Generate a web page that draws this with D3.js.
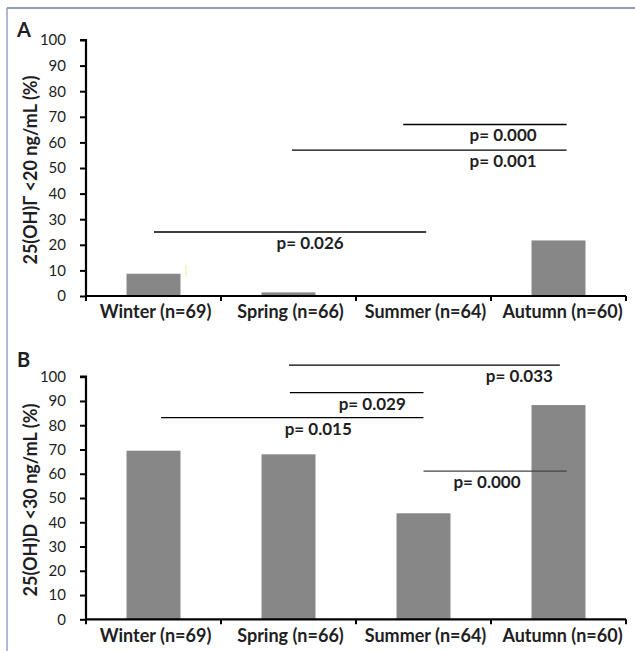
<!DOCTYPE html>
<html>
<head>
<meta charset="utf-8">
<script src="https://cdn.jsdelivr.net/npm/d3@7"></script>
<style>
  html, body { margin: 0; padding: 0; background: #fff; }
  svg { display: block; }
  text { font-family: Lato, "Open Sans", sans-serif; font-weight: bold; fill: #1e1e24; }
</style>
</head>
<body>
<script>
// ---------- data ----------
const categories = ["Winter (n=69)", "Spring (n=66)", "Summer (n=64)", "Autumn (n=60)"];
const valuesA = [8.7, 1.4, 0, 21.7];   // % with 25(OH)D < 20 ng/mL
const valuesB = [69.5, 68.0, 43.7, 88.3]; // % with 25(OH)D < 30 ng/mL
const yTicks = [0, 10, 20, 30, 40, 50, 60, 70, 80, 90, 100];
const titleA = "25(OH)Γ <20 ng/mL (%)";
const titleB = "25(OH)D <30 ng/mL (%)";
// significance brackets: start / end / label position in category units, level in % units
const bracketStartA = [0.004, 1.026, 1.85];
const bracketEndA   = [2.02, 3.06, 3.06];
const bracketLevelA = [25, 57, 67];
const bracketLabelA = ["p= 0.026", "p= 0.001", "p= 0.000"];
const bracketLabelPosA = [1.16, 2.59, 2.59];
const bracketStartB = [1.004, 1.01, 0.056, 2.0];
const bracketEndB   = [3.01, 2.0, 2.0, 3.06];
const bracketLevelB = [104.8, 93.4, 83.1, 61.1];
const bracketLabelB = ["p= 0.033", "p= 0.029", "p= 0.015", "p= 0.000"];
const bracketLabelPosB = [2.71, 1.62, 1.22, 2.47];

// ---------- drawing ----------
const W = 635, H = 651;
const svg = d3.select("body").append("svg").attr("width", W).attr("height", H);

// frame
svg.append("line").attr("x1", 7).attr("x2", W).attr("y1", 8).attr("y2", 8)
  .attr("stroke", "#8f9bc0").attr("stroke-width", 2.2);
svg.append("line").attr("x1", 7).attr("x2", 7).attr("y1", 8).attr("y2", H)
  .attr("stroke", "#8f9bc0").attr("stroke-width", 1.4);

function panel(opts) {
  const g = svg.append("g");
  const x = d3.scaleBand().domain(categories).range([86, 626]).paddingInner(0.6).paddingOuter(0.3);
  const slot = d3.scaleBand().domain(categories).range([86, 626]).padding(0);
  const step = slot.step();
  const cx = u => slot(categories[0]) + step / 2 + u * step;
  const y = d3.scaleLinear().domain([0, 100]).range([opts.y0, opts.y100]);

  // bars
  g.selectAll("rect.bar").data(opts.values).join("rect")
    .attr("class", "bar")
    .attr("x", (d, i) => x(categories[i]))
    .attr("width", x.bandwidth())
    .attr("y", d => y(d))
    .attr("height", d => y(0) - y(d))
    .attr("fill", "#878787");

  // y axis
  const yAxis = d3.axisLeft(y).tickValues(yTicks).tickSize(6).tickPadding(14);
  const ya = g.append("g").attr("transform", "translate(86,0)").call(yAxis);
  ya.select(".domain").attr("stroke", "#000").attr("stroke-width", 2.2)
    .attr("d", `M-6,${y(100)}H0V${y(0)}`);
  ya.selectAll(".tick line").attr("stroke", "#000").attr("stroke-width", 2);
  ya.selectAll(".tick text").style("font-size", "15px").style("font-weight", "normal")
    .attr("fill", "#1e1e30").attr("font-family", "Lato, sans-serif");

  // x axis (ticks at category boundaries)
  const bounds = categories.map(c => slot(c)).concat([626]);
  g.append("line").attr("x1", 86).attr("x2", 626).attr("y1", y(0)).attr("y2", y(0))
    .attr("stroke", "#000").attr("stroke-width", 2.2);
  g.selectAll("line.xt").data(bounds).join("line").attr("class", "xt")
    .attr("x1", d => d).attr("x2", d => d)
    .attr("y1", y(0)).attr("y2", y(0) + 5)
    .attr("stroke", "#000").attr("stroke-width", 2);
  g.selectAll("text.cat").data(categories).join("text").attr("class", "cat")
    .attr("x", (c, i) => slot(c) + step / 2 + (i === 3 ? 4 : 2))
    .attr("y", y(0) + opts.catDy)
    .attr("text-anchor", "middle")
    .style("font-size", "18px")
    .text(c => c);

  // y title
  g.append("text")
    .attr("transform", `translate(37,${(y(0) + y(100)) / 2 + 2}) rotate(-90)`)
    .attr("text-anchor", "middle")
    .style("font-size", "18px")
    .text(opts.title);

  // panel letter
  g.append("text").attr("x", 17).attr("y", opts.letterY)
    .style("font-size", "20px").text(opts.letter);

  // brackets
  opts.bStart.forEach((s, i) => {
    const yy = y(opts.bLevel[i]);
    g.append("line").attr("x1", cx(s)).attr("x2", cx(opts.bEnd[i]))
      .attr("y1", yy).attr("y2", yy)
      .attr("stroke", opts.bColor ? opts.bColor[i] : "#000").attr("stroke-width", 1.3);
    g.append("text").attr("x", cx(opts.bLabelPos[i])).attr("y", yy + 17)
      .attr("text-anchor", "middle").style("font-size", "17px")
      .text(opts.bLabel[i]);
  });
  return { x, y, slot };
}

panel({
  values: valuesA, y0: 296, y100: 40, title: titleA, letter: "A", letterY: 37, catDy: 22,
  bStart: bracketStartA, bEnd: bracketEndA, bLevel: bracketLevelA,
  bLabel: bracketLabelA, bLabelPos: bracketLabelPosA
});
// stray faint mark present in the original figure
svg.append("line").attr("x1", 186).attr("x2", 186).attr("y1", 265).attr("y2", 277)
  .attr("stroke", "#f3ef9c").attr("stroke-width", 1);

panel({
  values: valuesB, y0: 619.3, y100: 376.7, title: titleB, letter: "B", letterY: 367, catDy: 23,
  bStart: bracketStartB, bEnd: bracketEndB, bLevel: bracketLevelB,
  bLabel: bracketLabelB, bLabelPos: bracketLabelPosB,
  bColor: ["#000", "#000", "#000", "#444"]
});
</script>
</body>
</html>
